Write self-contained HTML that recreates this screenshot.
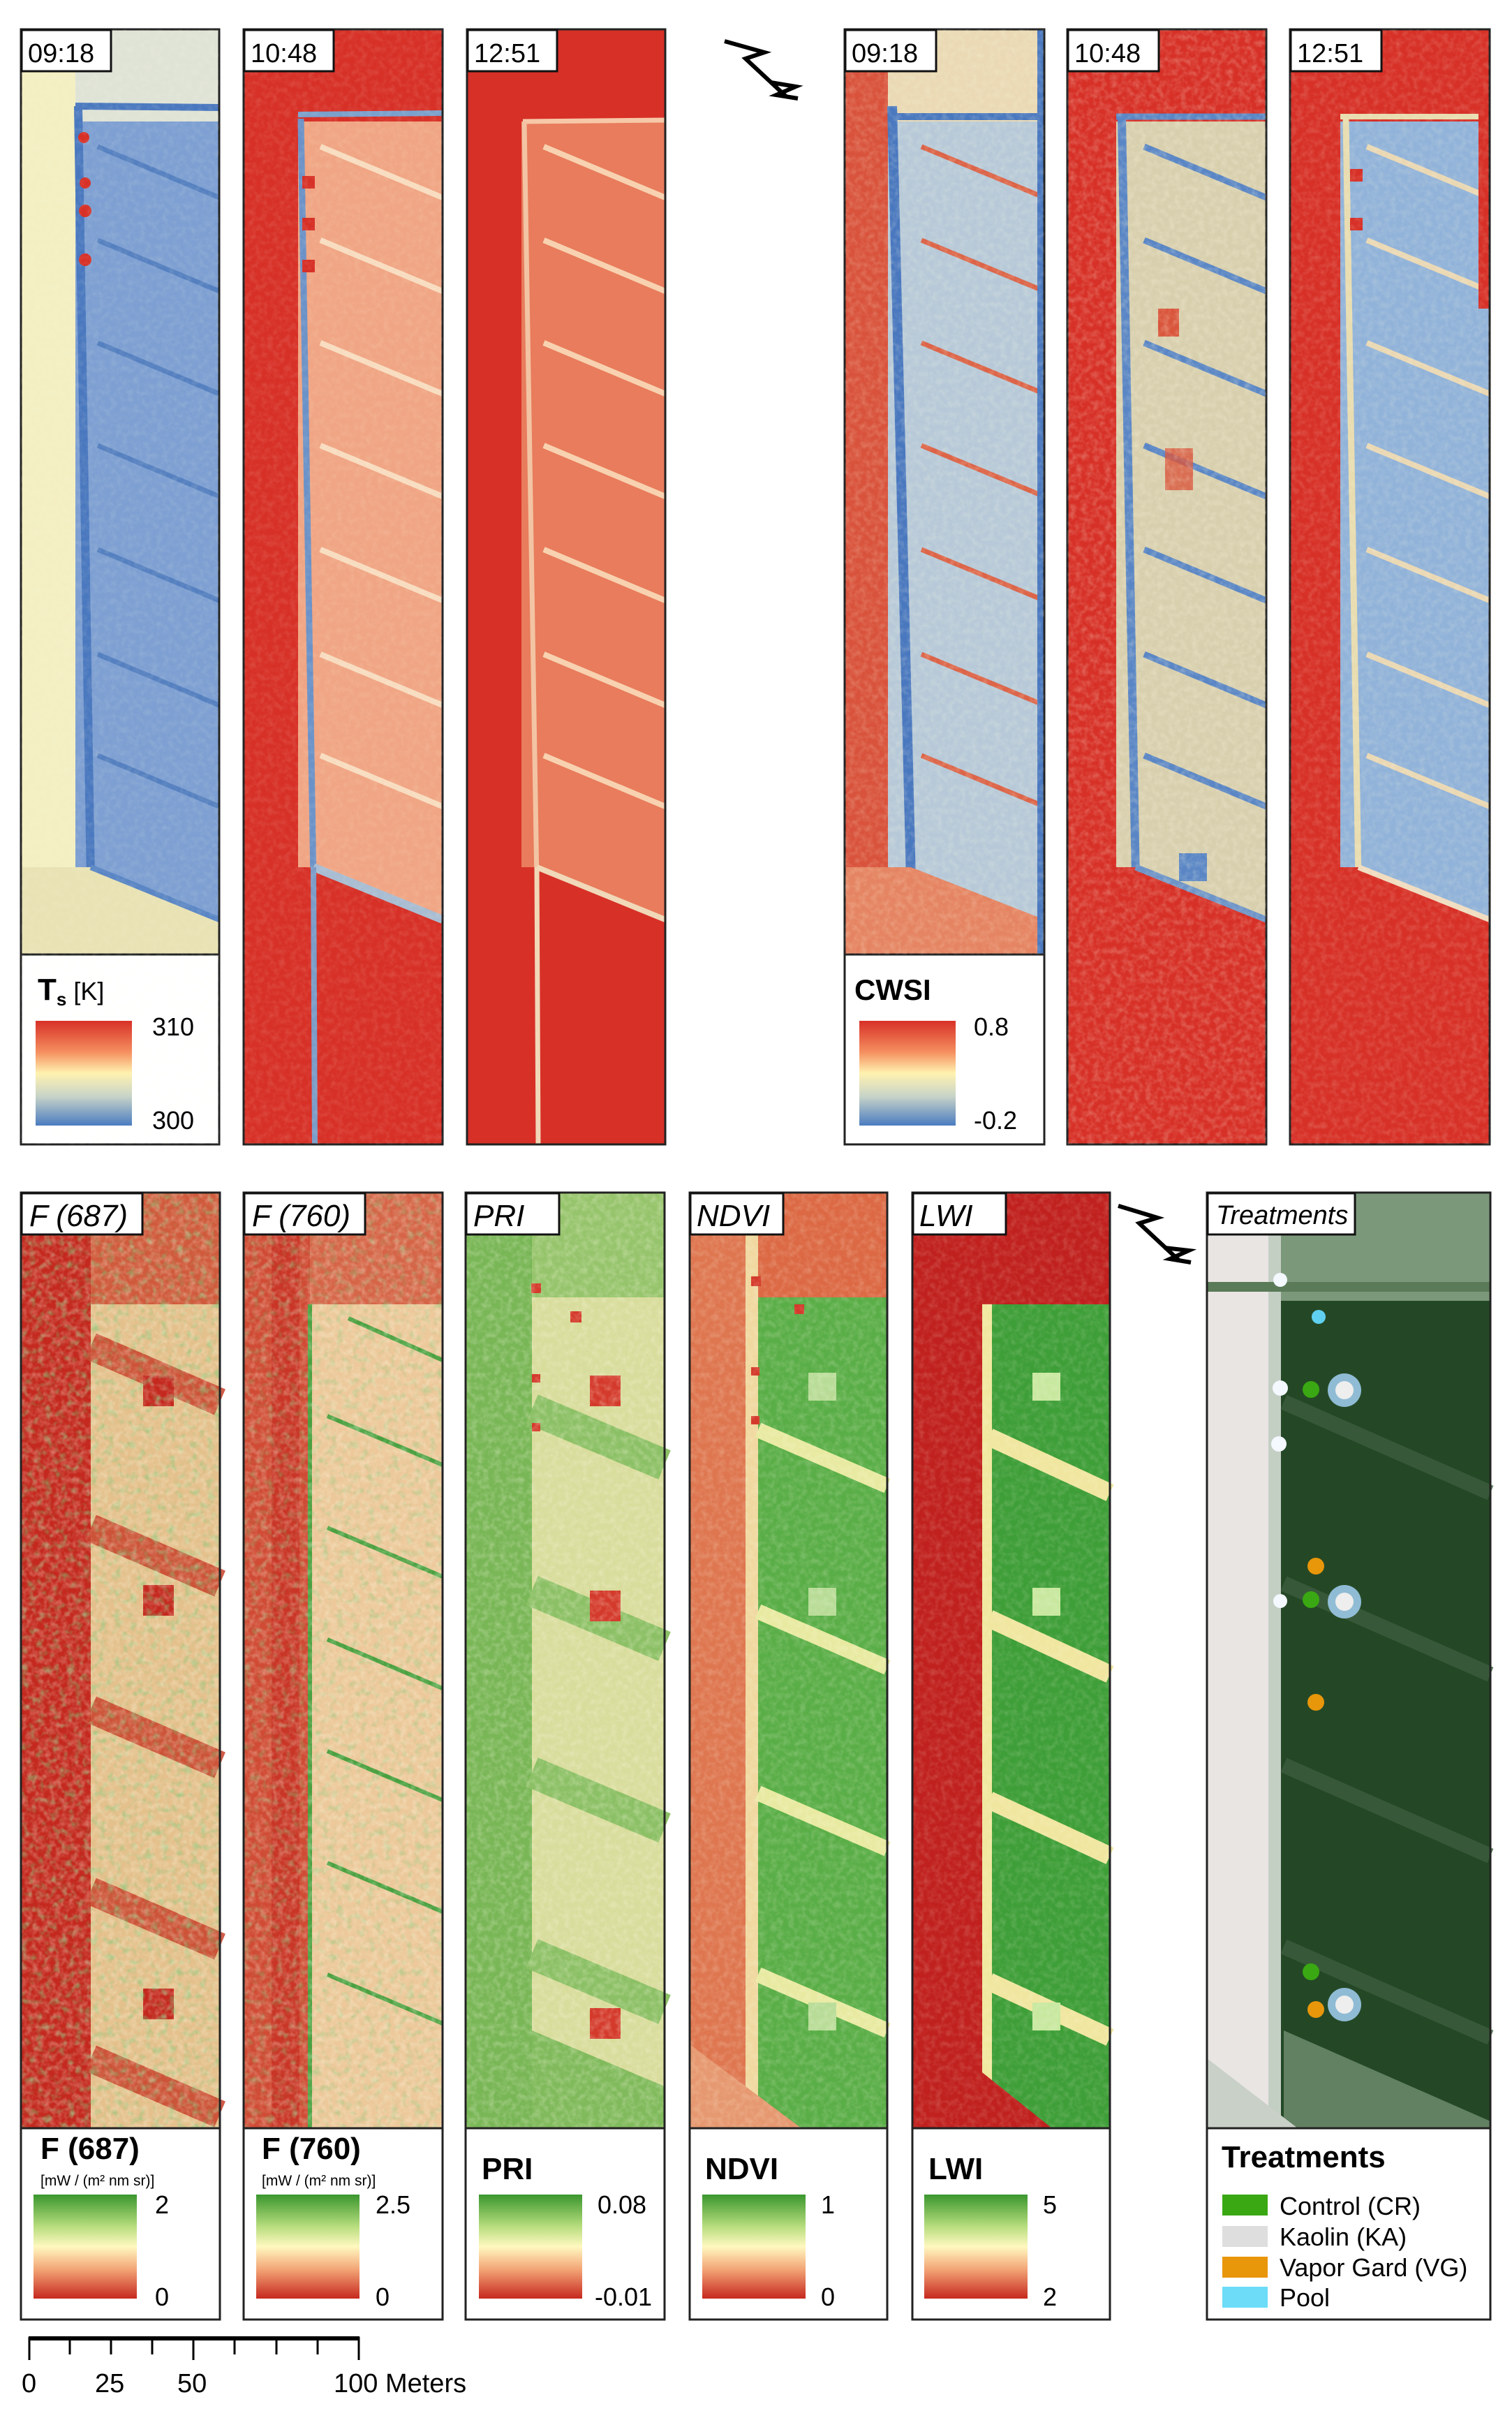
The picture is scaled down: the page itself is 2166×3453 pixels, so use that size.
<!DOCTYPE html>
<html><head><meta charset="utf-8"><style>
html,body{margin:0;padding:0;background:#fff;}
svg{display:block;font-family:"Liberation Sans",sans-serif;}
</style></head><body>
<svg xmlns="http://www.w3.org/2000/svg" width="2166" height="3453" viewBox="0 0 2166 3453">
<defs>
<filter id="nz" x="0" y="0" width="100%" height="100%">
<feTurbulence type="fractalNoise" baseFrequency="0.12" numOctaves="2" seed="3"/>
<feColorMatrix type="matrix" values="0 0 0 0 1  0 0 0 0 1  0 0 0 0 0.8  0 0 0 1.6 -0.6"/>
</filter>
<filter id="nz2" x="0" y="0" width="100%" height="100%">
<feTurbulence type="fractalNoise" baseFrequency="0.09" numOctaves="2" seed="7"/>
<feColorMatrix type="matrix" values="0 0 0 0 0.2  0 0 0 0 0.6  0 0 0 0 0.2  0 0 0 1.8 -0.9"/>
</filter>
<linearGradient id="gT" x1="0" y1="0" x2="0" y2="1">
<stop offset="0" stop-color="#d73027"/><stop offset="0.3" stop-color="#f59060"/><stop offset="0.5" stop-color="#fff2b0"/><stop offset="0.72" stop-color="#c8d4c8"/><stop offset="1" stop-color="#4a7cc0"/></linearGradient>
<linearGradient id="gG" x1="0" y1="0" x2="0" y2="1">
<stop offset="0" stop-color="#3a962e"/><stop offset="0.3" stop-color="#b5dc7c"/><stop offset="0.5" stop-color="#fff8c0"/><stop offset="0.72" stop-color="#f3a476"/><stop offset="1" stop-color="#c6281e"/></linearGradient>
</defs>

<!-- ===== TOP ROW ===== -->
<!-- panel template drawn 6 times -->
<g transform="translate(30,42)">
<rect width="284" height="1597" fill="#7d9fd2"/>
<rect x="0" y="0" width="284" height="132" fill="#dfe3d6"/>
<rect x="0" y="0" width="78" height="1597" fill="#f3efc2"/>
<path d="M78,110 L284,112" stroke="#4a78bf" stroke-width="10"/>
<path d="M82,110 L100,1220" stroke="#4a78bf" stroke-width="12"/>
<g stroke="#5580c0" stroke-width="7"><path d="M110,168 L284,241"/><path d="M110,302 L284,375"/><path d="M110,449 L284,522"/><path d="M110,596 L284,669"/><path d="M110,745 L284,818"/><path d="M110,895 L284,968"/><path d="M110,1040 L284,1113"/></g>
<path d="M100,1200 L284,1275 L284,1325 L0,1325 L0,1200 Z" fill="#e8e2b4"/>
<path d="M100,1200 L284,1275" stroke="#5a86c5" stroke-width="8"/>
<g fill="#d73027"><circle cx="90" cy="155" r="8"/><circle cx="92" cy="220" r="8"/><circle cx="92" cy="260" r="9"/><circle cx="92" cy="330" r="9"/></g>
<rect y="1325" width="284" height="272" fill="#fff"/>
<rect width="284" height="1597" fill="none" stroke="#222" stroke-width="3"/>
<path d="M0,1325 H284" stroke="#222" stroke-width="3"/>
</g>
<g transform="translate(349,42)">
<rect width="285" height="1597" fill="#f0a584"/>
<rect x="0" y="0" width="285" height="132" fill="#d73027"/>
<rect x="0" y="0" width="78" height="1597" fill="#d73027"/>
<path d="M78,122 L285,120" stroke="#7aa0cc" stroke-width="8"/>
<path d="M82,128 L100,1220" stroke="#6b92c8" stroke-width="9"/>
<g stroke="#f8dcc0" stroke-width="8"><path d="M110,168 L285,241"/><path d="M110,302 L285,375"/><path d="M110,449 L285,522"/><path d="M110,596 L285,669"/><path d="M110,745 L285,818"/><path d="M110,895 L285,968"/><path d="M110,1040 L285,1113"/></g>
<path d="M100,1200 L285,1275 L285,1597 L0,1597 L0,1200 Z" fill="#d73027"/>
<path d="M100,1200 L285,1275" stroke="#a8bcd2" stroke-width="12"/>
<path d="M100,1200 L102,1597" stroke="#7a9cc8" stroke-width="8"/>
<g fill="#d73027"><rect x="84" y="210" width="18" height="18"/><rect x="84" y="270" width="18" height="18"/><rect x="84" y="330" width="18" height="18"/></g>
<rect width="285" height="1597" fill="none" stroke="#222" stroke-width="3"/>
</g>
<g transform="translate(669,42)">
<rect width="284" height="1597" fill="#e87c5c"/>
<rect x="0" y="0" width="284" height="132" fill="#d73027"/>
<rect x="0" y="0" width="78" height="1597" fill="#d73027"/>
<path d="M80,132 L284,130" stroke="#f6c8a8" stroke-width="7"/>
<path d="M82,132 L100,1220" stroke="#f2c4a4" stroke-width="7"/>
<g stroke="#f8d2b0" stroke-width="8"><path d="M110,168 L284,241"/><path d="M110,302 L284,375"/><path d="M110,449 L284,522"/><path d="M110,596 L284,669"/><path d="M110,745 L284,818"/><path d="M110,895 L284,968"/><path d="M110,1040 L284,1113"/></g>
<path d="M100,1200 L284,1275 L284,1597 L0,1597 L0,1200 Z" fill="#d73027"/>
<path d="M100,1200 L284,1275" stroke="#f0d8b8" stroke-width="8"/>
<path d="M100,1200 L102,1597" stroke="#f0d8b8" stroke-width="7"/>
<rect width="284" height="1597" fill="none" stroke="#222" stroke-width="3"/>
</g>
<g transform="translate(1210,42)">
<rect width="286" height="1597" fill="#b7c9d8"/>
<rect x="0" y="0" width="286" height="132" fill="#ead9b4"/>
<rect x="0" y="0" width="62" height="1597" fill="#d9533c"/>
<path d="M62,125 L286,125" stroke="#4a78bf" stroke-width="10"/>
<path d="M68,110 L95,1220" stroke="#4a78bf" stroke-width="14"/>
<g stroke="#dc6448" stroke-width="7"><path d="M110,168 L286,241"/><path d="M110,302 L286,375"/><path d="M110,449 L286,522"/><path d="M110,596 L286,669"/><path d="M110,745 L286,818"/><path d="M110,895 L286,968"/><path d="M110,1040 L286,1113"/></g>
<path d="M95,1200 L286,1275 L286,1325 L0,1325 L0,1200 Z" fill="#e58462"/>
<rect x="276" y="0" width="10" height="1325" fill="#4a78bf"/>
<rect y="1325" width="286" height="272" fill="#fff"/>
<rect width="286" height="1597" fill="none" stroke="#222" stroke-width="3"/>
<path d="M0,1325 H286" stroke="#222" stroke-width="3"/>
</g>
<g transform="translate(1529,42)">
<rect width="285" height="1597" fill="#d8cfae"/>
<rect x="0" y="0" width="285" height="132" fill="#d73027"/>
<rect x="0" y="0" width="70" height="1597" fill="#d73027"/>
<path d="M70,125 L285,125" stroke="#5a86c5" stroke-width="9"/>
<path d="M78,128 L98,1220" stroke="#5a86c5" stroke-width="12"/>
<g stroke="#5a86c5" stroke-width="9"><path d="M110,168 L285,241"/><path d="M110,302 L285,375"/><path d="M110,449 L285,522"/><path d="M110,596 L285,669"/><path d="M110,745 L285,818"/><path d="M110,895 L285,968"/><path d="M110,1040 L285,1113"/></g>
<path d="M98,1200 L285,1275 L285,1597 L0,1597 L0,1200 Z" fill="#d73027"/>
<path d="M98,1200 L285,1275" stroke="#6d94c8" stroke-width="9"/>
<rect x="130" y="400" width="30" height="40" fill="#d9553c"/><rect x="140" y="600" width="40" height="60" fill="#d9553c" opacity="0.8"/>
<rect x="160" y="1180" width="40" height="40" fill="#5a86c5"/>
<rect width="285" height="1597" fill="none" stroke="#222" stroke-width="3"/>
</g>
<g transform="translate(1848,42)">
<rect width="286" height="1597" fill="#92b3d9"/>
<rect x="0" y="0" width="286" height="132" fill="#d73027"/>
<rect x="0" y="0" width="72" height="1597" fill="#d73027"/>
<path d="M72,125 L286,125" stroke="#e8dcb0" stroke-width="8"/>
<path d="M80,128 L98,1220" stroke="#e8dcb0" stroke-width="9"/>
<g stroke="#ead8b4" stroke-width="8"><path d="M110,168 L286,241"/><path d="M110,302 L286,375"/><path d="M110,449 L286,522"/><path d="M110,596 L286,669"/><path d="M110,745 L286,818"/><path d="M110,895 L286,968"/><path d="M110,1040 L286,1113"/></g>
<path d="M98,1200 L286,1275 L286,1597 L0,1597 L0,1200 Z" fill="#d73027"/>
<path d="M98,1200 L286,1275" stroke="#f0dcc0" stroke-width="8"/>
<g fill="#d73027"><rect x="86" y="200" width="18" height="18"/><rect x="86" y="270" width="18" height="18"/></g>
<rect x="270" y="0" width="16" height="400" fill="#d73027"/>
<rect width="286" height="1597" fill="none" stroke="#222" stroke-width="3"/>
</g>
<rect x="30" y="42" width="284" height="1597" filter="url(#nz)" opacity="0.15"/>
<rect x="349" y="42" width="285" height="1597" filter="url(#nz)" opacity="0.15"/>
<rect x="1210" y="42" width="286" height="1325" filter="url(#nz)" opacity="0.25"/>
<rect x="1529" y="42" width="285" height="1597" filter="url(#nz)" opacity="0.3"/>
<rect x="1848" y="42" width="286" height="1597" filter="url(#nz)" opacity="0.2"/>

<!-- time labels -->
<g font-size="38" fill="#000">
<rect x="31" y="43" width="128" height="59" fill="#fff" stroke="#111" stroke-width="3"/><text x="40" y="89">09:18</text>
<rect x="350" y="43" width="128" height="59" fill="#fff" stroke="#111" stroke-width="3"/><text x="359" y="89">10:48</text>
<rect x="670" y="43" width="128" height="59" fill="#fff" stroke="#111" stroke-width="3"/><text x="679" y="89">12:51</text>
<rect x="1211" y="43" width="130" height="59" fill="#fff" stroke="#111" stroke-width="3"/><text x="1220" y="89">09:18</text>
<rect x="1530" y="43" width="130" height="59" fill="#fff" stroke="#111" stroke-width="3"/><text x="1539" y="89">10:48</text>
<rect x="1849" y="43" width="130" height="59" fill="#fff" stroke="#111" stroke-width="3"/><text x="1858" y="89">12:51</text>
</g>
<!-- top legends -->
<text x="54" y="1432" font-size="44" font-weight="bold">T<tspan font-size="26" dy="8">s</tspan><tspan font-weight="normal" font-size="36" dy="-8"> [K]</tspan></text>
<rect x="51" y="1462" width="138" height="150" fill="url(#gT)"/>
<text x="218" y="1483" font-size="36">310</text><text x="218" y="1617" font-size="36">300</text>
<text x="1224" y="1432" font-size="42" font-weight="bold">CWSI</text>
<rect x="1231" y="1462" width="138" height="150" fill="url(#gT)"/>
<text x="1395" y="1483" font-size="36">0.8</text><text x="1395" y="1617" font-size="36">-0.2</text>

<!-- north arrows -->
<g fill="none" stroke="#000" stroke-width="6" stroke-linejoin="miter">
<path d="M1038,59 L1095,75 L1068,84 L1126,138"/>
<path d="M1104,118 L1140,124 L1112,136 L1143,141"/>
<path d="M1602,1727 L1658,1744 L1632,1752 L1690,1806"/>
<path d="M1668,1787 L1703,1791 L1676,1803 L1706,1808"/>
</g>

<!-- ===== BOTTOM ROW ===== -->
<g transform="translate(30,1708)">
<rect width="285" height="1340" fill="#e4c08c"/>
<rect width="285" height="160" fill="#d05a3c"/>
<rect width="100" height="1340" fill="#c4281e"/>
<g stroke="#c8402a" stroke-width="40" opacity="0.85"><path d="M100,220 L285,300"/><path d="M100,480 L285,560"/><path d="M100,740 L285,820"/><path d="M100,1000 L285,1080"/><path d="M100,1240 L285,1320"/></g>
<g fill="#c4281e"><rect x="175" y="262" width="44" height="44"/><rect x="175" y="562" width="44" height="44"/><rect x="175" y="1140" width="44" height="44"/></g>
<rect width="285" height="1340" filter="url(#nz2)" opacity="0.8"/>
<rect width="285" height="1340" filter="url(#nz)" opacity="0.4"/>
</g>
<g transform="translate(349,1708)">
<rect width="285" height="1340" fill="#ecc89a"/>
<rect width="285" height="160" fill="#d66548"/>
<rect width="95" height="1340" fill="#d04a34"/>
<rect x="40" width="40" height="1340" fill="#c4281e" opacity="0.6"/>
<g stroke="#4aa040" stroke-width="6"><path d="M95,160 L95,1340"/><path d="M150,180 L285,240"/><path d="M120,320 L285,390"/><path d="M120,480 L285,550"/><path d="M120,640 L285,710"/><path d="M120,800 L285,870"/><path d="M120,960 L285,1030"/><path d="M120,1120 L285,1190"/></g>
<rect width="285" height="1340" filter="url(#nz2)" opacity="0.6"/>
<rect width="285" height="1340" filter="url(#nz)" opacity="0.4"/>
</g>
<g transform="translate(667,1708)">
<rect width="285" height="1340" fill="#d8dc9c"/>
<rect width="285" height="150" fill="#96c46c"/>
<rect width="95" height="1340" fill="#78b656"/>
<g stroke="#8cc066" stroke-width="45"><path d="M95,310 L285,390"/><path d="M95,570 L285,650"/><path d="M95,830 L285,910"/><path d="M95,1090 L285,1170"/></g>
<path d="M95,1200 L285,1280 L285,1340 L95,1340 Z" fill="#80ba5c"/>
<g fill="#d43a2c"><rect x="178" y="262" width="44" height="44"/><rect x="178" y="570" width="44" height="44"/><rect x="178" y="1168" width="44" height="44"/>
<rect x="94" y="130" width="14" height="14"/><rect x="150" y="170" width="16" height="16"/><rect x="95" y="260" width="12" height="12"/><rect x="95" y="330" width="12" height="12"/></g>
<rect width="285" height="1340" filter="url(#nz)" opacity="0.35"/>
</g>
<g transform="translate(988,1708)">
<rect width="283" height="1340" fill="#5aae48"/>
<rect width="283" height="150" fill="#dc6844"/>
<rect width="80" height="1340" fill="#de7650"/>
<rect x="80" width="18" height="1340" fill="#f0d8a0"/>
<g stroke="#e8eaa2" stroke-width="22"><path d="M98,340 L283,420"/><path d="M98,600 L283,680"/><path d="M98,860 L283,940"/><path d="M98,1120 L283,1200"/></g>
<path d="M0,1220 L160,1340 L0,1340 Z" fill="#e69870"/>
<g fill="#b8dc98"><rect x="170" y="258" width="40" height="40"/><rect x="170" y="566" width="40" height="40"/><rect x="170" y="1160" width="40" height="40"/></g>
<g fill="#d43a2c"><rect x="88" y="120" width="14" height="14"/><rect x="150" y="160" width="14" height="14"/><rect x="88" y="250" width="12" height="12"/><rect x="88" y="320" width="12" height="12"/></g>
<rect width="283" height="1340" filter="url(#nz)" opacity="0.25"/>
</g>
<g transform="translate(1307,1708)">
<rect width="283" height="1340" fill="#3e9e38"/>
<rect width="283" height="160" fill="#c0201e"/>
<rect width="100" height="1340" fill="#c0201e"/>
<rect x="100" y="160" width="14" height="1180" fill="#f0e8a0"/>
<g stroke="#f0e6a0" stroke-width="26"><path d="M110,350 L283,430"/><path d="M110,610 L283,690"/><path d="M110,870 L283,950"/><path d="M110,1130 L283,1210"/></g>
<path d="M0,1180 L200,1340 L0,1340 Z" fill="#c0201e"/>
<g fill="#c8e8a0"><rect x="172" y="258" width="40" height="40"/><rect x="172" y="566" width="40" height="40"/><rect x="172" y="1160" width="40" height="40"/></g>
<rect width="283" height="1340" filter="url(#nz)" opacity="0.2"/>
</g>
<g transform="translate(1729,1708)">
<rect width="406" height="1340" fill="#244826"/>
<rect width="406" height="155" fill="#7c987a"/>
<rect width="90" height="1340" fill="#e9e5e3"/>
<rect x="88" y="0" width="18" height="1340" fill="#c4cfc4"/>
<path d="M0,135 L406,135" stroke="#5a7a58" stroke-width="14"/>
<g stroke="#3e5e3e" stroke-width="22" opacity="0.8"><path d="M110,300 L406,430"/><path d="M110,560 L406,690"/><path d="M110,820 L406,950"/><path d="M110,1080 L406,1210"/></g>
<path d="M110,1200 L406,1330 L406,1340 L110,1340 Z" fill="#8ca88a" opacity="0.6"/>
<path d="M0,1240 L130,1340 L0,1340 Z" fill="#c8d0c8"/>
<g fill="#9cc8e8" opacity="0.9"><circle cx="197" cy="283" r="24"/><circle cx="197" cy="586" r="24"/><circle cx="197" cy="1163" r="24"/></g>
<g fill="#eeeeee"><circle cx="197" cy="283" r="13"/><circle cx="197" cy="586" r="13"/><circle cx="197" cy="1163" r="13"/></g>
<circle cx="160" cy="178" r="10" fill="#60d0f0"/>
<g fill="#3aa812"><circle cx="149" cy="282" r="12"/><circle cx="149" cy="583" r="12"/><circle cx="149" cy="1116" r="12"/></g>
<g fill="#e8960a"><circle cx="156" cy="535" r="12"/><circle cx="156" cy="730" r="12"/><circle cx="156" cy="1170" r="12"/></g>
<g fill="#f4f8ff"><circle cx="105" cy="280" r="11"/><circle cx="103" cy="360" r="11"/><circle cx="105" cy="585" r="10"/><circle cx="105" cy="125" r="10"/></g>
</g>
<!-- bottom legends + frames -->
<g fill="#fff"><rect x="30" y="3048" width="285" height="274"/><rect x="349" y="3048" width="285" height="274"/><rect x="667" y="3048" width="285" height="274"/><rect x="988" y="3048" width="283" height="274"/><rect x="1307" y="3048" width="283" height="274"/><rect x="1729" y="3048" width="406" height="274"/></g>
<g fill="none" stroke="#222" stroke-width="3">
<rect x="30" y="1708" width="285" height="1614"/><path d="M30,3048 H315"/>
<rect x="349" y="1708" width="285" height="1614"/><path d="M349,3048 H634"/>
<rect x="667" y="1708" width="285" height="1614"/><path d="M667,3048 H952"/>
<rect x="988" y="1708" width="283" height="1614"/><path d="M988,3048 H1271"/>
<rect x="1307" y="1708" width="283" height="1614"/><path d="M1307,3048 H1590"/>
<rect x="1729" y="1708" width="406" height="1614"/><path d="M1729,3048 H2135"/>
</g>
<g font-size="44" font-style="italic">
<rect x="31" y="1709" width="173" height="59" fill="#fff" stroke="#111" stroke-width="3"/><text x="42" y="1756">F (687)</text>
<rect x="350" y="1709" width="173" height="59" fill="#fff" stroke="#111" stroke-width="3"/><text x="361" y="1756">F (760)</text>
<rect x="668" y="1709" width="133" height="59" fill="#fff" stroke="#111" stroke-width="3"/><text x="678" y="1756">PRI</text>
<rect x="989" y="1709" width="133" height="59" fill="#fff" stroke="#111" stroke-width="3"/><text x="998" y="1756">NDVI</text>
<rect x="1308" y="1709" width="133" height="59" fill="#fff" stroke="#111" stroke-width="3"/><text x="1317" y="1756">LWI</text>
<rect x="1730" y="1709" width="211" height="59" fill="#fff" stroke="#111" stroke-width="3"/><text x="1742" y="1753" font-size="38">Treatments</text>
</g>
<g font-weight="bold" font-size="44">
<text x="58" y="3092">F (687)</text><text x="375" y="3092">F (760)</text>
<text x="690" y="3121">PRI</text><text x="1010" y="3121">NDVI</text><text x="1330" y="3121">LWI</text>
<text x="1750" y="3104">Treatments</text>
</g>
<g font-size="21"><text x="58" y="3130">[mW / (m² nm sr)]</text><text x="375" y="3130">[mW / (m² nm sr)]</text></g>
<g fill="url(#gG)"><rect x="48" y="3143" width="148" height="149"/><rect x="367" y="3143" width="148" height="149"/><rect x="686" y="3143" width="148" height="149"/><rect x="1006" y="3143" width="148" height="149"/><rect x="1324" y="3143" width="148" height="149"/></g>
<g font-size="36">
<text x="222" y="3170">2</text><text x="222" y="3302">0</text>
<text x="538" y="3170">2.5</text><text x="538" y="3302">0</text>
<text x="856" y="3170">0.08</text><text x="852" y="3302">-0.01</text>
<text x="1176" y="3170">1</text><text x="1176" y="3302">0</text>
<text x="1494" y="3170">5</text><text x="1494" y="3302">2</text>
</g>
<rect x="1751" y="3143" width="65" height="30" fill="#3aa812"/>
<rect x="1751" y="3188" width="65" height="30" fill="#dedede"/>
<rect x="1751" y="3232" width="65" height="30" fill="#e8960a"/>
<rect x="1751" y="3275" width="65" height="30" fill="#6cdcf8"/>
<g font-size="36"><text x="1833" y="3172">Control (CR)</text><text x="1833" y="3216">Kaolin (KA)</text><text x="1833" y="3260">Vapor Gard (VG)</text><text x="1833" y="3303">Pool</text></g>

<!-- scale bar -->
<path d="M41,3349 H515" stroke="#000" stroke-width="6"/>
<g stroke="#000" stroke-width="3">
<path d="M42,3347 V3380"/><path d="M100,3347 V3372"/><path d="M159,3347 V3372"/><path d="M218,3347 V3372"/><path d="M277,3347 V3380"/><path d="M336,3347 V3372"/><path d="M396,3347 V3372"/><path d="M455,3347 V3372"/><path d="M514,3347 V3380"/>
</g>
<g font-size="38"><text x="31" y="3426">0</text><text x="136" y="3426">25</text><text x="254" y="3426">50</text><text x="478" y="3426">100 Meters</text></g>
</svg>
</body></html>
